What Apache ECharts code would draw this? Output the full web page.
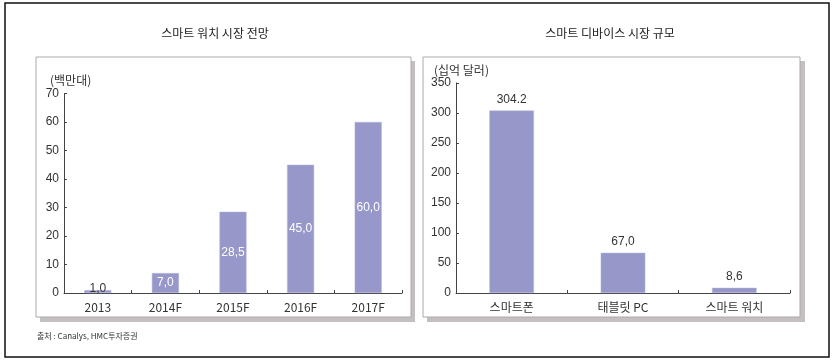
<!DOCTYPE html>
<html>
<head>
<meta charset="utf-8">
<script src="https://cdn.jsdelivr.net/npm/echarts@6/dist/echarts.min.js"></script>
<style>
html,body{margin:0;padding:0;background:#fff;}
#c{width:840px;height:360px;}
</style>
</head>
<body>
<div id="c"></div>
<script>
// Data
var watchYears = ['2013', '2014F', '2015F', '2016F', '2017F'];
var watchUnits = [1.0, 7.0, 28.5, 45.0, 60.0];
var watchLabels = ['1,0', '7,0', '28,5', '45,0', '60,0'];
var deviceNames = ['스마트폰', '태블릿 PC', '스마트 워치'];
var deviceMarket = [304.2, 67.0, 8.6];
var deviceLabels = ['304.2', '67,0', '8,6'];

var FONT = "'Liberation Sans','Noto Sans CJK KR',sans-serif";
var KFONT = "'Noto Sans CJK KR',sans-serif";
var BAR = '#9797c9';
var TXT = '#333';

var chart = echarts.init(document.getElementById('c'));

function catAxis(gi, data) {
  return {
    type: 'category', gridIndex: gi, data: data,
    boundaryGap: true,
    axisLine: {show: true, lineStyle: {color: '#444', width: 1}},
    axisTick: {show: true, inside: true, length: 3, alignWithLabel: false, lineStyle: {color: '#444'}},
    axisLabel: {color: TXT, fontSize: 12, margin: 8, fontFamily: KFONT},
    splitLine: {show: false}
  };
}
function valAxis(gi, max, interval) {
  return {
    type: 'value', gridIndex: gi, min: 0, max: max, interval: interval,
    axisLine: {show: true, lineStyle: {color: '#444', width: 1}},
    axisTick: {show: true, inside: true, length: 3, lineStyle: {color: '#444'}},
    axisLabel: {color: TXT, fontSize: 12, margin: 5, fontFamily: FONT},
    splitLine: {show: false}
  };
}

var leftData = watchUnits.map(function (v, i) {
  var d = {value: v, label: {formatter: watchLabels[i]}};
  if (i === 0) { d.label.color = TXT; d.label.offset = [0, -3]; }
  return d;
});
var rightData = deviceMarket.map(function (v, i) {
  return {value: v, label: {formatter: deviceLabels[i]}};
});

chart.setOption({
  animation: false,
  grid: [
    {left: 64, right: 438, top: 93.5, bottom: 67},
    {left: 456, right: 50, top: 83, bottom: 67}
  ],
  xAxis: [catAxis(0, watchYears), catAxis(1, deviceNames)],
  yAxis: [valAxis(0, 70, 10), valAxis(1, 350, 50)],
  series: [
    {
      type: 'bar', xAxisIndex: 0, yAxisIndex: 0, data: leftData,
      barWidth: '40%',
      itemStyle: {color: BAR, borderColor: '#b4b4dc', borderWidth: 0.5},
      label: {show: true, position: 'inside', color: '#fff', fontSize: 12, fontFamily: FONT}
    },
    {
      type: 'bar', xAxisIndex: 1, yAxisIndex: 1, data: rightData,
      barWidth: '40%',
      itemStyle: {color: BAR, borderColor: '#b4b4dc', borderWidth: 0.5},
      label: {show: true, position: 'top', distance: 5, color: TXT, fontSize: 12, fontFamily: FONT}
    }
  ],
  graphic: [
    {type: 'rect', z: -10, shape: {x: 5, y: 3, width: 824, height: 354}, style: {fill: '#fff', stroke: '#111', lineWidth: 1.5}},
    {type: 'rect', z: -9, shape: {x: 40, y: 61, width: 375, height: 261}, style: {fill: '#c4c0c0'}},
    {type: 'rect', z: -8, shape: {x: 36, y: 57, width: 375, height: 260}, style: {fill: '#fff', stroke: '#aaa', lineWidth: 1}},
    {type: 'rect', z: -9, shape: {x: 427, y: 61, width: 378, height: 261}, style: {fill: '#c4c0c0'}},
    {type: 'rect', z: -8, shape: {x: 423, y: 57, width: 377, height: 260}, style: {fill: '#fff', stroke: '#aaa', lineWidth: 1}},
    {type: 'text', z: 5, x: 215, y: 33, style: {text: '스마트 워치 시장 전망', fill: '#222', font: '12px ' + KFONT, align: 'center', verticalAlign: 'middle'}},
    {type: 'text', z: 5, x: 610, y: 33, style: {text: '스마트 디바이스 시장 규모', fill: '#222', font: '12px ' + KFONT, align: 'center', verticalAlign: 'middle'}},
    {type: 'text', z: 5, x: 50, y: 80, style: {text: '(백만대)', fill: TXT, font: '12px ' + KFONT, align: 'left', verticalAlign: 'middle'}},
    {type: 'text', z: 5, x: 434, y: 70, style: {text: '(십억 달러)', fill: TXT, font: '12px ' + KFONT, align: 'left', verticalAlign: 'middle'}},
    {type: 'text', z: 5, x: 37, y: 336, style: {text: '출처 : Canalys, HMC투자증권', fill: '#333', font: '8px ' + KFONT, align: 'left', verticalAlign: 'middle'}}
  ]
});
</script>
</body>
</html>
